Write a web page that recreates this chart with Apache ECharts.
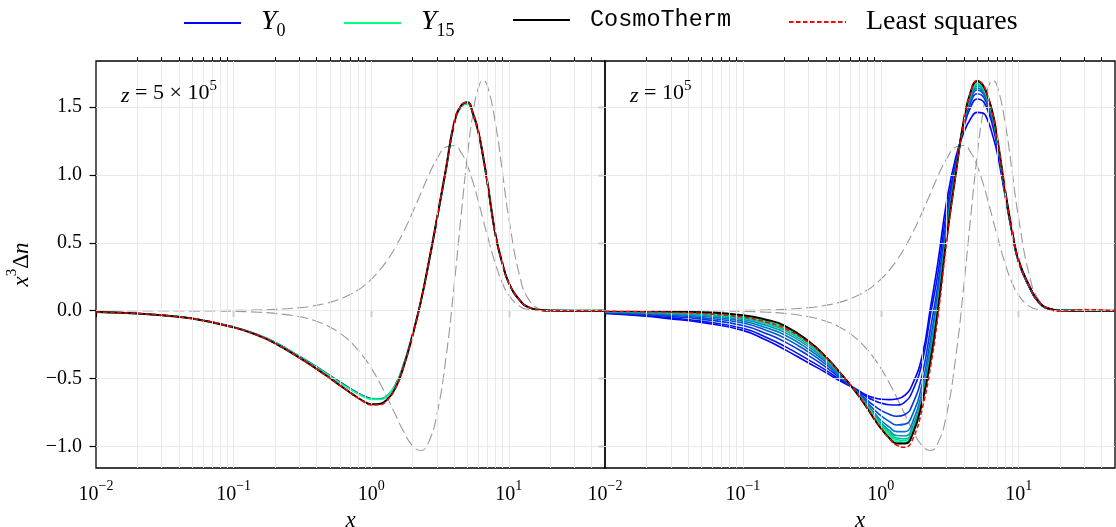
<!DOCTYPE html>
<html><head><meta charset="utf-8">
<script src="https://cdn.jsdelivr.net/npm/echarts@6/dist/echarts.min.js"></script>
<style>html,body{margin:0;padding:0;background:#fff}#c{width:1116px;height:527px}</style>
</head><body><div id="c"></div>
<script>
// ---- data ----
const xs = [0.01, 0.02, 0.03, 0.05, 0.1, 0.15, 0.2, 0.3, 0.4, 0.5, 0.65, 0.8, 0.9, 1.0, 1.15, 1.3, 1.5, 1.7, 2.0, 2.3, 2.6, 3.0, 3.5, 4.0, 4.5, 5.0, 5.5, 6.0, 6.5, 7.0, 8.0, 9.0, 10, 12, 14, 17, 20, 30, 50];

// gray dashed reference shapes (same in both panels)
const dashG = [0.00003, 0.0001, 0.000225, 0.000625, 0.0025, 0.00561, 0.00997, 0.02233, 0.03947, 0.06121, 0.10198, 0.15174, 0.18938, 0.23017, 0.29647, 0.36771, 0.46791, 0.57101, 0.72406, 0.86644, 0.99016, 1.1166, 1.20452, 1.21635, 1.16457, 1.06714, 0.9426, 0.80711, 0.67295, 0.54836, 0.34374, 0.20247, 0.11351, 0.03185, 0.00799, 0.00086, 0.00008, 0, 0];
const dashY = [-0.00005, -0.0002, -0.00045, -0.00125, -0.005, -0.01122, -0.01987, -0.04433, -0.0779, -0.11988, -0.19683, -0.28747, -0.35354, -0.4226, -0.529, -0.63465, -0.76661, -0.8794, -0.99481, -1.02883, -0.97311, -0.76557, -0.33973, 0.18154, 0.70002, 1.13953, 1.45645, 1.63829, 1.69555, 1.65209, 1.37681, 1.0128, 0.68117, 0.2548, 0.07986, 0.01124, 0.00132, 0, 0];

// left panel, z = 5e5
const leftCT  = [-0.01, -0.021, -0.034, -0.058, -0.123, -0.182, -0.24, -0.346, -0.428, -0.496, -0.578, -0.641, -0.672, -0.689, -0.687, -0.655, -0.568, -0.428, -0.181, 0.074, 0.34, 0.675, 1.05, 1.38, 1.51, 1.535, 1.45, 1.32, 1.14, 0.94, 0.56, 0.345, 0.205, 0.077, 0.024, 0.005, 0.001, 0, 0];
const leftLS  = [-0.01, -0.021, -0.034, -0.058, -0.123, -0.182, -0.24, -0.346, -0.428, -0.497, -0.579, -0.643, -0.676, -0.694, -0.693, -0.66, -0.571, -0.429, -0.181, 0.074, 0.34, 0.675, 1.05, 1.38, 1.51, 1.535, 1.45, 1.32, 1.14, 0.94, 0.56, 0.345, 0.205, 0.077, 0.024, 0.005, 0.001, 0, 0];
const leftY0  = [-0.01, -0.021, -0.033, -0.056, -0.12, -0.178, -0.232, -0.335, -0.412, -0.476, -0.551, -0.606, -0.632, -0.646, -0.648, -0.626, -0.545, -0.411, -0.17, 0.072, 0.335, 0.668, 1.04, 1.37, 1.5, 1.523, 1.44, 1.31, 1.13, 0.935, 0.556, 0.343, 0.204, 0.077, 0.024, 0.005, 0.001, 0, 0];
const leftY15 = [-0.01, -0.021, -0.033, -0.056, -0.121, -0.179, -0.234, -0.338, -0.416, -0.481, -0.556, -0.611, -0.637, -0.651, -0.652, -0.63, -0.548, -0.413, -0.172, 0.072, 0.335, 0.668, 1.043, 1.372, 1.502, 1.525, 1.442, 1.312, 1.131, 0.936, 0.556, 0.343, 0.204, 0.077, 0.024, 0.005, 0.001, 0, 0];

// right panel, z = 1e5
const rightCT  = [-0.002, -0.004, -0.006, -0.011, -0.033, -0.068, -0.11, -0.225, -0.34, -0.45, -0.59, -0.72, -0.8, -0.865, -0.935, -0.977, -0.978, -0.91, -0.67, -0.36, 0.01, 0.53, 1.01, 1.4, 1.615, 1.69, 1.66, 1.57, 1.45, 1.27, 0.88, 0.58, 0.37, 0.18, 0.065, 0.012, 0.002, 0, 0];
const rightLS  = [-0.004, -0.008, -0.012, -0.02, -0.048, -0.085, -0.128, -0.235, -0.345, -0.45, -0.588, -0.715, -0.795, -0.86, -0.94, -0.99, -1.005, -0.95, -0.72, -0.41, -0.04, 0.5, 1.0, 1.39, 1.613, 1.695, 1.665, 1.572, 1.447, 1.27, 0.88, 0.58, 0.37, 0.18, 0.065, 0.01, -0.003, 0.008, 0];
const rightY0  = [-0.02, -0.041, -0.06, -0.087, -0.145, -0.22, -0.285, -0.385, -0.455, -0.515, -0.572, -0.625, -0.642, -0.651, -0.655, -0.65, -0.622, -0.54, -0.33, 0.03, 0.36, 0.8, 1.13, 1.31, 1.415, 1.46, 1.455, 1.395, 1.285, 1.16, 0.84, 0.56, 0.355, 0.168, 0.06, 0.01, 0.002, 0, 0];
const rightY1  = [-0.017, -0.036, -0.053, -0.077, -0.13, -0.199, -0.261, -0.362, -0.438, -0.505, -0.574, -0.637, -0.662, -0.679, -0.692, -0.694, -0.671, -0.592, -0.378, -0.024, 0.277, 0.735, 1.09, 1.348, 1.501, 1.558, 1.543, 1.469, 1.355, 1.205, 0.854, 0.567, 0.36, 0.172, 0.062, 0.01, 0.002, 0, 0];
const rightY3  = [-0.014, -0.029, -0.042, -0.062, -0.109, -0.171, -0.228, -0.331, -0.415, -0.491, -0.579, -0.66, -0.701, -0.733, -0.762, -0.777, -0.764, -0.69, -0.469, -0.126, 0.195, 0.67, 1.07, 1.364, 1.535, 1.597, 1.578, 1.499, 1.383, 1.223, 0.859, 0.57, 0.361, 0.174, 0.063, 0.01, 0.002, 0, 0];
const rightY5  = [-0.011, -0.023, -0.034, -0.051, -0.091, -0.147, -0.2, -0.305, -0.396, -0.48, -0.582, -0.677, -0.73, -0.773, -0.815, -0.841, -0.835, -0.764, -0.539, -0.204, 0.136, 0.623, 1.05, 1.374, 1.558, 1.624, 1.601, 1.519, 1.401, 1.235, 0.863, 0.571, 0.363, 0.176, 0.063, 0.011, 0.002, 0, 0];
const rightY7  = [-0.009, -0.018, -0.027, -0.041, -0.077, -0.128, -0.177, -0.284, -0.38, -0.471, -0.584, -0.691, -0.753, -0.805, -0.856, -0.89, -0.89, -0.822, -0.593, -0.264, 0.096, 0.592, 1.038, 1.38, 1.571, 1.639, 1.615, 1.53, 1.412, 1.242, 0.865, 0.572, 0.363, 0.176, 0.063, 0.011, 0.002, 0, 0];
const rightY9  = [-0.007, -0.014, -0.021, -0.032, -0.065, -0.111, -0.158, -0.266, -0.367, -0.463, -0.586, -0.699, -0.766, -0.824, -0.88, -0.919, -0.922, -0.857, -0.625, -0.3, 0.07, 0.571, 1.029, 1.386, 1.584, 1.654, 1.629, 1.542, 1.423, 1.249, 0.867, 0.573, 0.364, 0.177, 0.064, 0.011, 0.002, 0, 0];
const rightY11 = [-0.005, -0.011, -0.017, -0.026, -0.055, -0.098, -0.143, -0.252, -0.357, -0.457, -0.587, -0.704, -0.775, -0.836, -0.896, -0.937, -0.943, -0.878, -0.645, -0.322, 0.051, 0.557, 1.022, 1.39, 1.594, 1.665, 1.638, 1.55, 1.431, 1.254, 0.868, 0.574, 0.364, 0.177, 0.064, 0.011, 0.002, 0, 0];
const rightY13 = [-0.004, -0.008, -0.013, -0.021, -0.048, -0.088, -0.132, -0.241, -0.349, -0.452, -0.587, -0.707, -0.78, -0.842, -0.905, -0.948, -0.955, -0.891, -0.657, -0.336, 0.04, 0.548, 1.018, 1.393, 1.601, 1.674, 1.646, 1.557, 1.437, 1.258, 0.869, 0.575, 0.365, 0.178, 0.064, 0.011, 0.002, 0, 0];
const rightY15 = [-0.003, -0.006, -0.01, -0.017, -0.042, -0.08, -0.122, -0.232, -0.342, -0.448, -0.588, -0.71, -0.785, -0.85, -0.915, -0.962, -0.968, -0.905, -0.67, -0.35, 0.03, 0.54, 1.015, 1.395, 1.605, 1.678, 1.65, 1.56, 1.44, 1.26, 0.87, 0.575, 0.365, 0.178, 0.064, 0.011, 0.002, 0, 0];

const yTicks = [-1.0, -0.5, 0.0, 0.5, 1.0, 1.5];
const xMajor = [0.01, 0.1, 1, 10];
const xMinor = [0.02, 0.03, 0.04, 0.05, 0.06, 0.07, 0.08, 0.09, 0.2, 0.3, 0.4, 0.5, 0.6, 0.7, 0.8, 0.9, 2, 3, 4, 5, 6, 7, 8, 9, 20, 30, 40];
const panelLabels = ['{i|z} = 5 × 10{s|5}', '{i|z} = 10{s|5}'];

// ---- styling ----
const SERIF = '"Liberation Serif", "Times New Roman", serif';
const MONO = '"Liberation Mono", "DejaVu Sans Mono", monospace';
const winter = ['#0000ff', '#0011f7', '#0033e6', '#0055d5', '#0077c4', '#0099b3', '#00bba2', '#00dd91', '#00ff80'];
const X_MIN = 0.01, X_MAX = 50, Y_MIN = -1.158, Y_MAX = 1.838;

const chart = echarts.init(document.getElementById('c'), null, {renderer: 'canvas'});

const grids = [
  {left: 96, top: 61, width: 509, height: 407, show: true, borderColor: '#000', borderWidth: 1.3, backgroundColor: 'transparent', containLabel: false, outerBoundsMode: 'none'},
  {left: 605, top: 61, width: 510, height: 407, show: true, borderColor: '#000', borderWidth: 1.3, backgroundColor: 'transparent', containLabel: false, outerBoundsMode: 'none'}
];

const supRich = {
  b: {fontFamily: SERIF, fontSize: 20, lineHeight: 26, verticalAlign: 'bottom', color: '#000'},
  s: {fontFamily: SERIF, fontSize: 14, lineHeight: 14, verticalAlign: 'top', color: '#000'}
};
function xLab(v) {
  const e = Math.round(Math.log10(v));
  return '{b|10}{s|' + (e < 0 ? '\u2212' : '') + Math.abs(e) + '}';
}
const xAxes = [];
const yAxes = [];
for (let g = 0; g < 2; g++) {
  xAxes.push({
    type: 'log', logBase: 10, gridIndex: g, min: X_MIN, max: X_MAX,
    axisLine: {show: false},
    axisTick: {show: true, customValues: xMajor, length: 6.5, lineStyle: {color: '#000', width: 1.2}},
    axisLabel: {show: true, customValues: xMajor, formatter: xLab, margin: 11, rich: supRich},
    splitLine: {show: false},
    name: '{i|x}', nameLocation: 'middle', nameGap: 36,
    nameTextStyle: {rich: {i: {fontFamily: SERIF, fontStyle: 'italic', fontSize: 23, color: '#000'}}}
  });
  xAxes.push({
    type: 'log', logBase: 10, gridIndex: g, min: X_MIN, max: X_MAX,
    axisLine: {show: false},
    axisTick: {show: true, customValues: xMinor, length: 3.8, lineStyle: {color: '#000', width: 1}},
    axisLabel: {show: false}, splitLine: {show: false}
  });
  yAxes.push({
    type: 'value', gridIndex: g, min: Y_MIN, max: Y_MAX,
    axisLine: {show: false},
    axisTick: {show: true, customValues: yTicks, length: 6.5, lineStyle: {color: '#000', width: 1.2}},
    axisLabel: {show: g === 0, customValues: yTicks, margin: 14, fontFamily: SERIF, fontSize: 20, color: '#000',
      formatter: v => (v < 0 ? '\u2212' : '') + Math.abs(v).toFixed(1)},
    splitLine: {show: false},
    name: g === 0 ? '{i|x}{s|3}{n|Δ}{i|n}' : '', nameLocation: 'middle', nameGap: 63, nameRotate: 90,
    nameTextStyle: {rich: {
      i: {fontFamily: SERIF, fontStyle: 'italic', fontSize: 23, lineHeight: 28, verticalAlign: 'bottom', color: '#000'},
      n: {fontFamily: SERIF, fontSize: 23, lineHeight: 28, verticalAlign: 'bottom', color: '#000'},
      s: {fontFamily: SERIF, fontSize: 15, lineHeight: 15, verticalAlign: 'top', color: '#000'}
    }}
  });
}

function pts(arr) { return xs.map((x, i) => [x, arr[i]]); }
function line(name, arr, g, color, width, type, z) {
  return {
    type: 'line', name: name, xAxisIndex: g * 2, yAxisIndex: g, data: pts(arr),
    smooth: 0.5, symbol: 'none', showSymbol: false, silent: true, animation: false, z: z,
    lineStyle: {color: color, width: width, type: type}, itemStyle: {color: color}
  };
}

const series = [];
for (let g = 0; g < 2; g++) {
  // gridlines
  series.push({
    type: 'line', xAxisIndex: g * 2, yAxisIndex: g, data: [], silent: true, animation: false, z: 0,
    markLine: {
      silent: true, symbol: ['none', 'none'], label: {show: false}, animation: false,
      lineStyle: {color: '#e6e6e6', width: 0.9, type: 'solid'},
      data: xMajor.slice(1).concat(xMinor).map(v => ({xAxis: v})).concat(yTicks.map(v => ({yAxis: v})))
    }
  });
  series.push(line('G', dashG, g, '#999999', 1.1, [11, 4.5], 1));
  series.push(line('YSZ', dashY, g, '#999999', 1.1, [11, 4.5], 1));
}
// left panel
series.push(line('Y0', leftY0, 0, winter[0], 1.6, 'solid', 2));
series.push(line('Y15', leftY15, 0, winter[8], 1.8, 'solid', 3));
series.push(line('CosmoTherm', leftCT, 0, '#000000', 2, 'solid', 4));
series.push(line('Least squares', leftLS, 0, '#ff0000', 1.5, [4.5, 2.5], 5));
// right panel
const rightYs = [rightY0, rightY1, rightY3, rightY5, rightY7, rightY9, rightY11, rightY13, rightY15];
const rightNames = ['Y0', 'Y1', 'Y3', 'Y5', 'Y7', 'Y9', 'Y11', 'Y13', 'Y15'];
rightYs.forEach((arr, k) => series.push(line(rightNames[k], arr, 1, winter[k], 1.6, 'solid', 2 + k * 0.01)));
series.push(line('CosmoTherm', rightCT, 1, '#000000', 2, 'solid', 4));
series.push(line('Least squares', rightLS, 1, '#ff0000', 1.5, [4.5, 2.5], 5));

// legend (four entries positioned like the reference)
const legRich = {
  i: {fontFamily: SERIF, fontStyle: 'italic', fontSize: 28, lineHeight: 30, verticalAlign: 'top', color: '#000', padding: [0, 0, 0, 15]},
  sub: {fontFamily: SERIF, fontSize: 18, lineHeight: 18, verticalAlign: 'top', padding: [14, 0, 0, 0], color: '#000'},
  m: {fontFamily: MONO, fontSize: 23.5, lineHeight: 30, color: '#000', padding: [0, 0, 0, 15]},
  r: {fontFamily: SERIF, fontSize: 28, lineHeight: 30, color: '#000', padding: [0, 0, 0, 15]}
};
const legFmt = {
  'Y0': '{i|Y}{sub|0}', 'Y15': '{i|Y}{sub|15}', 'CosmoTherm': '{m|CosmoTherm}', 'Least squares': '{r|Least squares}'
};
const legPos = [['Y0', 183], ['Y15', 343], ['CosmoTherm', 512], ['Least squares', 788]];
const legends = legPos.map(([n, l]) => ({
  data: [n], left: l, top: 8, itemWidth: 57, itemHeight: 14, selectedMode: false, padding: 0,
  itemStyle: {opacity: 0, borderWidth: 0},
  formatter: nm => legFmt[nm], textStyle: {rich: legRich}
}));

const titles = [
  {text: panelLabels[0], left: 121, top: 79},
  {text: panelLabels[1], left: 630, top: 79}
].map(t => Object.assign(t, {padding: 0, textStyle: {fontFamily: SERIF, fontSize: 22, fontWeight: 'normal', color: '#000', rich: {
  i: {fontFamily: SERIF, fontStyle: 'italic', fontSize: 22, lineHeight: 28, verticalAlign: 'bottom', color: '#000'},
  s: {fontFamily: SERIF, fontSize: 15, lineHeight: 15, verticalAlign: 'top', color: '#000'}
}}}));

chart.setOption({
  animation: false,
  backgroundColor: '#ffffff',
  title: titles,
  legend: legends,
  grid: grids,
  xAxis: xAxes,
  yAxis: yAxes,
  series: series
});
</script>
</body></html>
